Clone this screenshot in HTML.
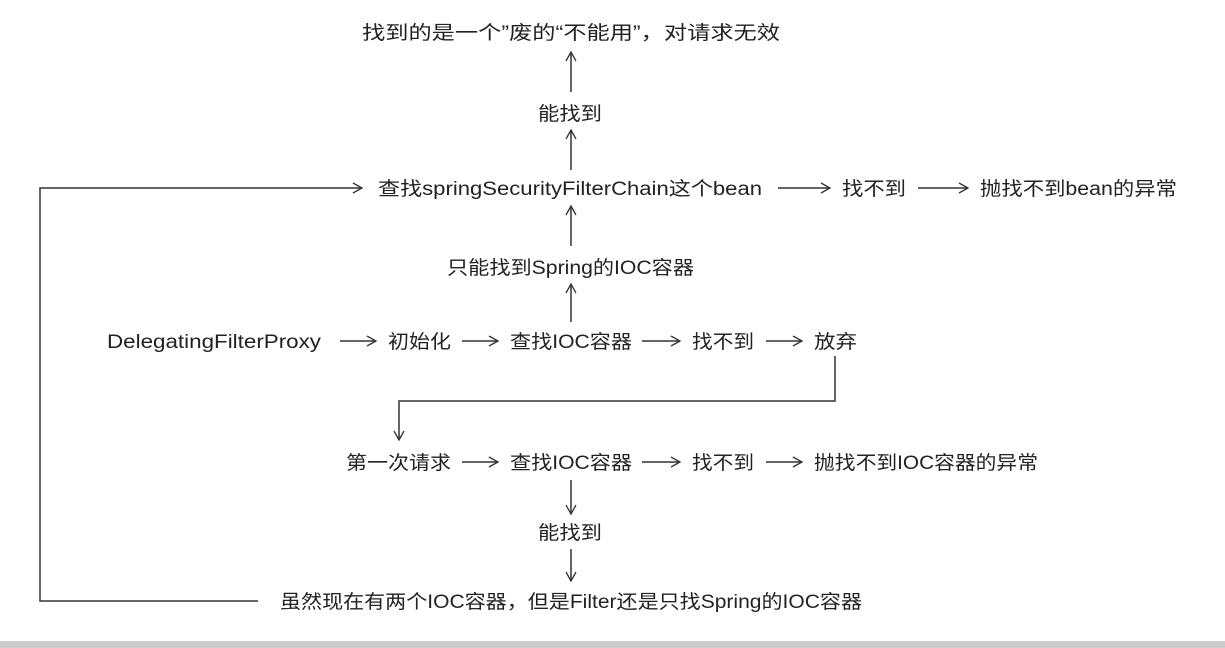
<!DOCTYPE html>
<html><head><meta charset="utf-8"><style>
html,body{margin:0;padding:0;background:#fff;width:1225px;height:648px;overflow:hidden}
svg text{font-family:"Liberation Sans","Noto Sans CJK SC",sans-serif;font-size:19px;fill:#222}
</style></head><body>
<svg width="1225" height="648" viewBox="0 0 1225 648">
<defs>
<marker id="a" markerWidth="12" markerHeight="12" refX="10" refY="6" orient="auto" markerUnits="userSpaceOnUse">
<path d="M1,1 L10,6 L1,11" fill="none" stroke="#333" stroke-width="1.3"/></marker>
</defs>
<rect x="0" y="641" width="1225" height="7" fill="#cacaca"/>
<g stroke="#333" stroke-width="1.5" fill="none">
<line x1="571" y1="92" x2="571" y2="52" marker-end="url(#a)"/>
<line x1="571" y1="170" x2="571" y2="130" marker-end="url(#a)"/>
<line x1="571" y1="246" x2="571" y2="206" marker-end="url(#a)"/>
<line x1="571" y1="322" x2="571" y2="284" marker-end="url(#a)"/>
<polyline points="258,601 40,601 40,188 362,188" marker-end="url(#a)"/>
<line x1="778" y1="188" x2="830" y2="188" marker-end="url(#a)"/>
<line x1="918" y1="188" x2="968" y2="188" marker-end="url(#a)"/>
<line x1="340" y1="341" x2="376" y2="341" marker-end="url(#a)"/>
<line x1="462" y1="341" x2="498" y2="341" marker-end="url(#a)"/>
<line x1="642" y1="341" x2="680" y2="341" marker-end="url(#a)"/>
<line x1="766" y1="341" x2="802" y2="341" marker-end="url(#a)"/>
<polyline points="835,356 835,401 399,401 399,440" marker-end="url(#a)"/>
<line x1="462" y1="462" x2="498" y2="462" marker-end="url(#a)"/>
<line x1="642" y1="462" x2="680" y2="462" marker-end="url(#a)"/>
<line x1="766" y1="462" x2="802" y2="462" marker-end="url(#a)"/>
<line x1="571" y1="480" x2="571" y2="514" marker-end="url(#a)"/>
<line x1="571" y1="549" x2="571" y2="581" marker-end="url(#a)"/>
</g>
<g>
<text x="362" y="39" textLength="418" lengthAdjust="spacingAndGlyphs">找到的是一个”废的“不能用”，对请求无效</text>
<text x="538" y="120" textLength="64" lengthAdjust="spacingAndGlyphs">能找到</text>
<text x="378" y="195" textLength="384" lengthAdjust="spacingAndGlyphs">查找springSecurityFilterChain这个bean</text>
<text x="842" y="195" textLength="64" lengthAdjust="spacingAndGlyphs">找不到</text>
<text x="980" y="195" textLength="197" lengthAdjust="spacingAndGlyphs">抛找不到bean的异常</text>
<text x="447" y="274" textLength="247" lengthAdjust="spacingAndGlyphs">只能找到Spring的IOC容器</text>
<text x="107" y="348" textLength="214" lengthAdjust="spacingAndGlyphs">DelegatingFilterProxy</text>
<text x="388" y="348" textLength="63" lengthAdjust="spacingAndGlyphs">初始化</text>
<text x="510" y="348" textLength="122" lengthAdjust="spacingAndGlyphs">查找IOC容器</text>
<text x="692" y="348" textLength="62" lengthAdjust="spacingAndGlyphs">找不到</text>
<text x="814" y="348" textLength="43" lengthAdjust="spacingAndGlyphs">放弃</text>
<text x="346" y="469" textLength="105" lengthAdjust="spacingAndGlyphs">第一次请求</text>
<text x="510" y="469" textLength="122" lengthAdjust="spacingAndGlyphs">查找IOC容器</text>
<text x="692" y="469" textLength="62" lengthAdjust="spacingAndGlyphs">找不到</text>
<text x="814" y="469" textLength="224" lengthAdjust="spacingAndGlyphs">抛找不到IOC容器的异常</text>
<text x="538" y="539" textLength="64" lengthAdjust="spacingAndGlyphs">能找到</text>
<text x="280" y="608" textLength="582" lengthAdjust="spacingAndGlyphs">虽然现在有两个IOC容器，但是Filter还是只找Spring的IOC容器</text>
</g>
</svg>
</body></html>
